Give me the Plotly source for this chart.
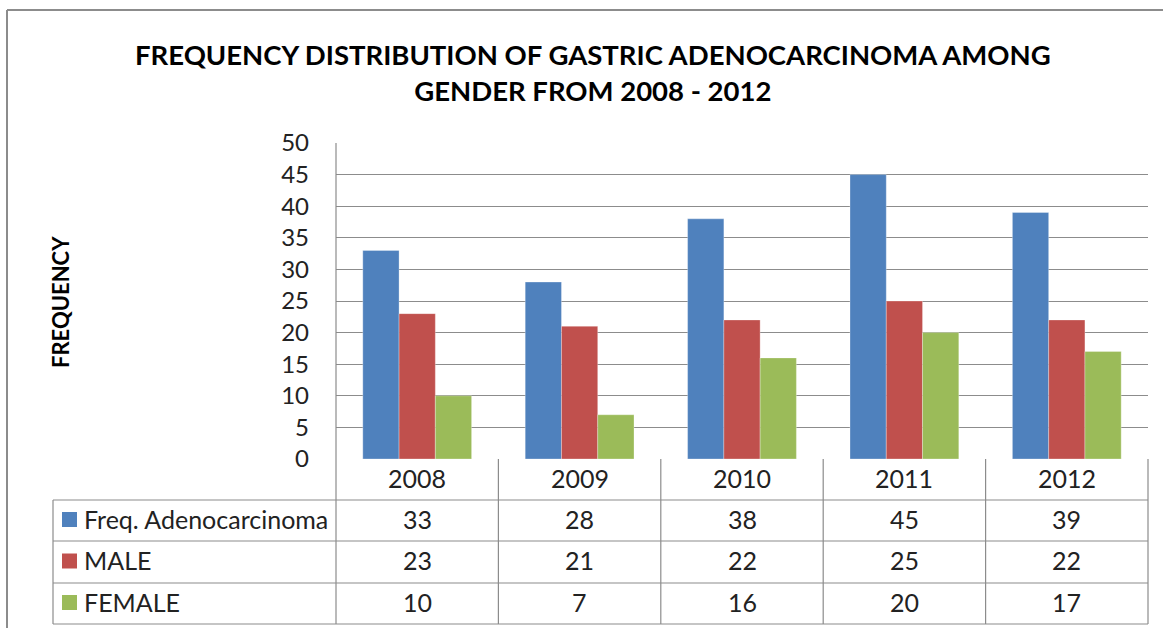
import plotly.graph_objects as go

years = ["2008", "2009", "2010", "2011", "2012"]
series_names = ["Freq. Adenocarcinoma", "MALE", "FEMALE"]
freq = [33, 28, 38, 45, 39]
male = [23, 21, 22, 25, 22]
female = [10, 7, 16, 20, 17]
colors = ["#4F81BD", "#C0504D", "#9BBB59"]
y_ticks = [0, 5, 10, 15, 20, 25, 30, 35, 40, 45, 50]

W, H = 1163, 628
L, R, T, B = 336, 1148, 143, 459
pw, ph = R - L, B - T
FONT = "Lato, Open Sans, sans-serif"

def px(X):
    return (X - L) / pw

def py(Y):
    return (B - Y) / ph

fig = go.Figure()
idx = list(range(len(years)))
for name, vals, c in zip(series_names, [freq, male, female], colors):
    fig.add_trace(go.Bar(x=idx, y=vals, name=name, marker=dict(color=c, line=dict(color="rgba(255,255,255,0.5)", width=0.6))))

shapes = []
annotations = []
line = dict(color="#8C8C8C", width=1.2)
row_edges = [459, 500, 541, 583, 624]
shapes.append(dict(type="line", xref="paper", yref="paper", x0=px(53), x1=1, y0=py(500), y1=py(500), line=line))
for Y in row_edges[2:]:
    shapes.append(dict(type="line", xref="paper", yref="paper", x0=px(53), x1=1, y0=py(Y), y1=py(Y), line=line))
shapes.append(dict(type="line", xref="paper", yref="paper", x0=0, x1=0, y0=1, y1=py(624), line=line))
shapes.append(dict(type="line", xref="paper", yref="paper", x0=1, x1=1, y0=0, y1=py(624), line=line))
shapes.append(dict(type="line", xref="paper", yref="paper", x0=px(53), x1=px(53), y0=py(500), y1=py(624), line=line))
for i in range(len(years) - 1):
    shapes.append(dict(type="line", xref="x", yref="paper", x0=i + 0.5, x1=i + 0.5, y0=0, y1=py(624), line=line))
shapes.append(dict(type="line", xref="paper", yref="paper", x0=px(7), x1=px(1170), y0=py(10), y1=py(10), line=dict(color="#8C8C8C", width=2)))
shapes.append(dict(type="line", xref="paper", yref="paper", x0=px(7), x1=px(7), y0=py(10), y1=py(640), line=dict(color="#8C8C8C", width=2)))

tf = dict(family=FONT, size=25, color="#222222")
for i, yr in enumerate(years):
    annotations.append(dict(x=i, y=py(477.5), xref="x", yref="paper", text=yr, showarrow=False, font=tf, xanchor="center", yanchor="middle"))
for r, (name, vals, c) in enumerate(zip(series_names, [freq, male, female], colors)):
    yc = (row_edges[r + 1] + row_edges[r + 2]) / 2
    for i, v in enumerate(vals):
        annotations.append(dict(x=i, y=py(yc - 2), xref="x", yref="paper", text=str(v), showarrow=False, font=tf, xanchor="center", yanchor="middle"))
    shapes.append(dict(type="rect", xref="paper", yref="paper", x0=px(62), x1=px(77), y0=py(yc - 8.5), y1=py(yc + 6.5), fillcolor=c, line=dict(width=0)))
    annotations.append(dict(x=px(82), y=py(yc - 2), xref="paper", yref="paper", text=name, showarrow=False, font=tf, xanchor="left", yanchor="middle"))

annotations.append(dict(x=px(593), y=py(73), xref="paper", yref="paper",
                        text="<b>FREQUENCY DISTRIBUTION OF GASTRIC ADENOCARCINOMA AMONG<br>GENDER FROM 2008 - 2012</b>",
                        showarrow=False, font=dict(family=FONT, size=27.5, color="#000000"), xanchor="center", yanchor="middle"))
annotations.append(dict(x=px(60), y=py(302), xref="paper", yref="paper", text="<b>FREQUENCY</b>", textangle=-90,
                        showarrow=False, font=dict(family=FONT, size=22, color="#000000"), xanchor="center", yanchor="middle"))

fig.update_layout(
    width=W, height=H,
    margin=dict(l=L, r=W - R, t=T, b=H - B, pad=0),
    paper_bgcolor="white", plot_bgcolor="white",
    barmode="group", bargap=0.33, bargroupgap=0,
    showlegend=False,
    xaxis=dict(range=[-0.5, len(years) - 0.5], showticklabels=False, showgrid=False, zeroline=False,
               showline=False, ticks=""),
    yaxis=dict(range=[0, 50], tickvals=y_ticks, showgrid=True, gridcolor="#8C8C8C", gridwidth=1.2,
               zeroline=False, showline=False, ticks="", ticklabelstandoff=26,
               tickfont=dict(family=FONT, size=24, color="#222222")),
    shapes=shapes, annotations=annotations,
)
fig.write_html("out.html", config={"displayModeBar": False},
               post_script="document.body.style.margin='0';document.body.style.padding='0';")
